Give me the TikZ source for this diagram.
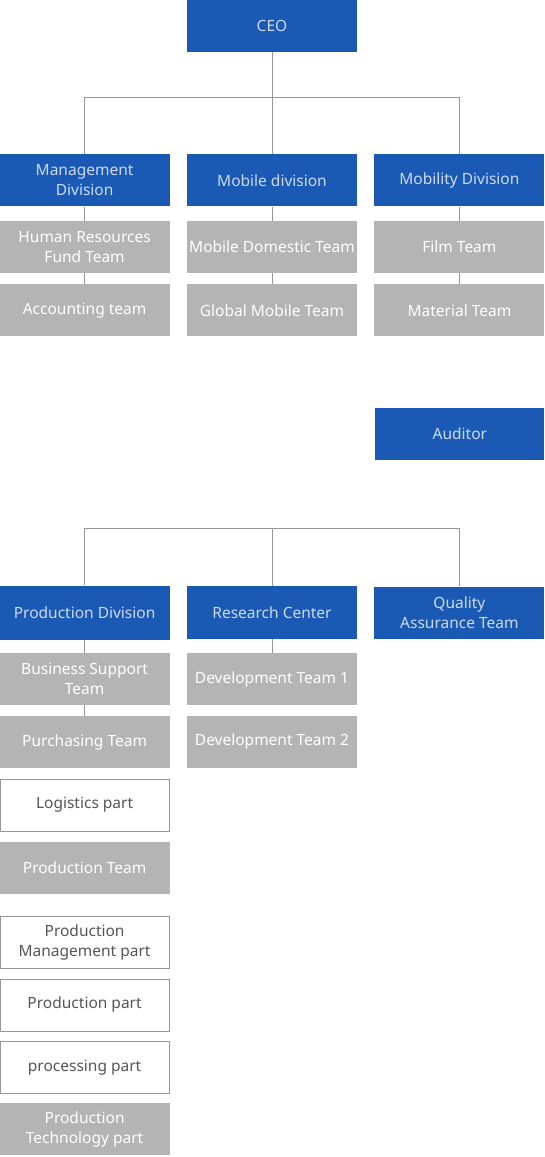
\documentclass[tikz,border=0pt]{standalone}
\usepackage{fontspec}
\setmainfont{Noto Sans}
\usepackage{tikz}
\usetikzlibrary{positioning}
\definecolor{orgblue}{RGB}{26,89,180}
\definecolor{orgblueText}{RGB}{205,219,240}
\definecolor{orggray}{RGB}{180,180,180}
\definecolor{orgline}{RGB}{150,150,150}
\definecolor{orgtext}{RGB}{85,85,85}
\tikzstyle{org box}=[rectangle,minimum width=170pt,minimum height=52pt,inner sep=0pt,align=center,font=\fontsize{15.5}{20}\selectfont]
\tikzstyle{unit box}=[org box,fill=orgblue,text=orgblueText]
\tikzstyle{team box}=[org box,fill=orggray,text=white]
\tikzstyle{part box}=[org box,fill=white,draw=orgline,line width=0.8pt,text=orgtext,minimum width=169pt,minimum height=52pt]
\tikzstyle{org edge}=[draw=orgline,line width=0.8pt]
\newcommand{\orgnode}[3][]{
  \node [#1] (#2) {#3}
}

\begin{document}
\begin{tikzpicture}
        \useasboundingbox (0,0) rectangle (545pt,-1157pt);
        \orgnode[unit box, at={(272pt,-26pt)}]{ceo}{CEO};
        \orgnode[unit box, below=102pt of ceo]{mob}{Mobile division};
        \orgnode[unit box, left=17pt of mob]{mgmt}{Management\\Division};
        \orgnode[unit box, right=17pt of mob]{mbty}{Mobility Division};
        \coordinate[below=45pt of ceo] (bus1);

        \orgnode[team box, below=14pt of mgmt]{hr}{Human Resources\\Fund Team};
        \orgnode[team box, below=11pt of hr]{acct}{Accounting team};
        \orgnode[team box, below=14pt of mob]{dom}{Mobile Domestic Team};
        \orgnode[team box, below=11pt of dom]{glob}{Global Mobile Team};
        \orgnode[team box, below=14pt of mbty]{film}{Film Team};
        \orgnode[team box, below=11pt of film]{mat}{Material Team};

        \orgnode[unit box, minimum width=169pt, xshift=0.5pt, below=71pt of mat]{aud}{Auditor};

        \orgnode[unit box, minimum height=53pt, at={(272pt,-612.5pt)}]{rc}{Research Center};
        \orgnode[unit box, minimum height=54pt, left=17pt of rc]{prod}{Production Division};
        \orgnode[unit box, right=17pt of rc]{qa}{Quality\\Assurance Team};
        \coordinate[above=57pt of rc.north] (bus2);

        \orgnode[team box, below=14pt of rc]{dev1}{Development Team 1};
        \orgnode[team box, below=10pt of dev1]{dev2}{Development Team 2};

        \orgnode[team box, below=13pt of prod]{bst}{Business Support\\Team};
        \orgnode[team box, below=11pt of bst]{pur}{Purchasing Team};
        \orgnode[part box, below=10pt of pur]{log}{Logistics part};
        \orgnode[team box, below=10pt of log]{pt}{Production Team};
        \orgnode[part box, below=22pt of pt]{pmp}{Production\\Management part};
        \orgnode[part box, below=10pt of pmp]{pp}{Production part};
        \orgnode[part box, below=10pt of pp]{proc}{processing part};
        \orgnode[team box, below=9pt of proc]{ptp}{Production\\Technology part};

            \draw[org edge] (ceo) -- (mob);
            \draw[org edge] (mgmt) |- (bus1) -| (mbty);

            \draw[org edge] (mgmt) -- (hr);
            \draw[org edge] (hr) -- (acct);
            \draw[org edge] (mob) -- (dom);
            \draw[org edge] (dom) -- (glob);
            \draw[org edge] (mbty) -- (film);
            \draw[org edge] (film) -- (mat);

            \draw[org edge] (bus2) -- (rc);
            \draw[org edge] (prod) |- (bus2) -| (qa);
            \draw[org edge] (prod) -- (bst);
            \draw[org edge] (bst) -- (pur);
            \draw[org edge] (rc) -- (dev1);
\end{tikzpicture}
\end{document}
